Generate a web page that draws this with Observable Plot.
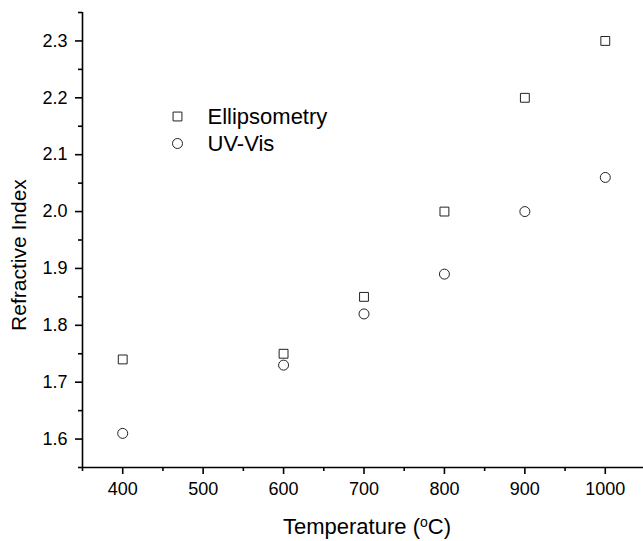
<!DOCTYPE html>
<html>
<head>
<meta charset="utf-8">
<script src="https://cdn.jsdelivr.net/npm/d3@7"></script>
<script src="https://cdn.jsdelivr.net/npm/@observablehq/plot@0.6"></script>
<style>
  html, body { margin: 0; padding: 0; background: #fff; }
</style>
</head>
<body>
<div id="chart"></div>
<script>
const temperature = [400, 600, 700, 800, 900, 1000];
const ellipsometry = [1.74, 1.75, 1.85, 2.00, 2.20, 2.30];
const uvVis = [1.61, 1.73, 1.82, 1.89, 2.00, 2.06];
const seriesNames = ["Ellipsometry", "UV-Vis"];
const xDomain = [350, 1050];
const yDomain = [1.55, 2.35];
const xTicks = [400, 500, 600, 700, 800, 900, 1000];
const xMinorTicks = [350, 450, 550, 650, 750, 850, 950, 1050];
const yTicks = [1.6, 1.7, 1.8, 1.9, 2.0, 2.1, 2.2, 2.3];
const yMinorTicks = [1.55, 1.65, 1.75, 1.85, 1.95, 2.05, 2.15, 2.25, 2.35];
const xTitle = "Temperature (°C)";
const yTitle = "Refractive Index";

const ell = temperature.map((t, i) => ({t, v: ellipsometry[i]}));
const uv = temperature.map((t, i) => ({t, v: uvVis[i]}));

const font = "'Liberation Sans', Arial, sans-serif";
const ink = "#222";

const chart = Plot.plot({
  width: 643,
  height: 541,
  marginLeft: 82,
  marginRight: -2,
  marginTop: 12,
  marginBottom: 74,
  style: {fontFamily: font, fontSize: "18px", color: "#000", background: "#fff"},
  x: {domain: xDomain},
  y: {domain: yDomain},
  marks: [
    Plot.ruleX([xDomain[0]], {stroke: "#000", strokeWidth: 1.6}),
    Plot.ruleY([yDomain[0]], {stroke: "#000", strokeWidth: 1.6}),
    Plot.axisX(xTicks, {tickSize: 7, tickPadding: 8, strokeWidth: 1.6, tickFormat: d3.format("d"), label: null, fontSize: 18}),
    Plot.axisX(xMinorTicks, {tickSize: 4, strokeWidth: 1.6, tickFormat: () => "", label: null}),
    Plot.axisY(yTicks, {tickSize: 7, tickPadding: 8, strokeWidth: 1.6, tickFormat: d3.format(".1f"), label: null, fontSize: 18}),
    Plot.axisY(yMinorTicks, {tickSize: 4, strokeWidth: 1.6, tickFormat: () => "", label: null}),
    Plot.dot(ell, {x: "t", y: "v", symbol: "square", r: 5, stroke: ink, strokeWidth: 1, fill: "none"}),
    Plot.dot(uv, {x: "t", y: "v", symbol: "circle", r: 5, stroke: ink, strokeWidth: 1, fill: "none"}),
    // legend
    Plot.dot([seriesNames[0]], {frameAnchor: "top-left", dx: 95, dy: 104, symbol: "square", r: 5, stroke: ink, strokeWidth: 1, fill: "none"}),
    Plot.dot([seriesNames[1]], {frameAnchor: "top-left", dx: 95, dy: 131, symbol: "circle", r: 5, stroke: ink, strokeWidth: 1, fill: "none"}),
    Plot.text([seriesNames[0]], {frameAnchor: "top-left", dx: 125, dy: 104, text: d => d, textAnchor: "start", lineAnchor: "middle", fontSize: 22, fill: "#000"}),
    Plot.text([seriesNames[1]], {frameAnchor: "top-left", dx: 125, dy: 131, text: d => d, textAnchor: "start", lineAnchor: "middle", fontSize: 22, fill: "#000"}),
    // axis titles
    Plot.text([xTitle], {frameAnchor: "bottom", dx: 3, dy: 59, text: d => d, textAnchor: "middle", lineAnchor: "middle", fontSize: 22, fill: "#000"}),
    Plot.text([yTitle], {frameAnchor: "left", dx: -63, dy: 15, rotate: -90, text: d => d, textAnchor: "middle", lineAnchor: "middle", fontSize: 21, fill: "#000"})
  ]
});

// render the degree as a superscript "o" like the original figure
d3.select(chart).selectAll("text").each(function() {
  if (this.textContent === xTitle) {
    const t = d3.select(this);
    t.text(null);
    t.append("tspan").text("Temperature (");
    t.append("tspan").attr("dy", "-7px").attr("font-size", "14px").text("o");
    t.append("tspan").attr("dy", "7px").text("C)");
  }
});

document.getElementById("chart").appendChild(chart);
</script>
</body>
</html>
